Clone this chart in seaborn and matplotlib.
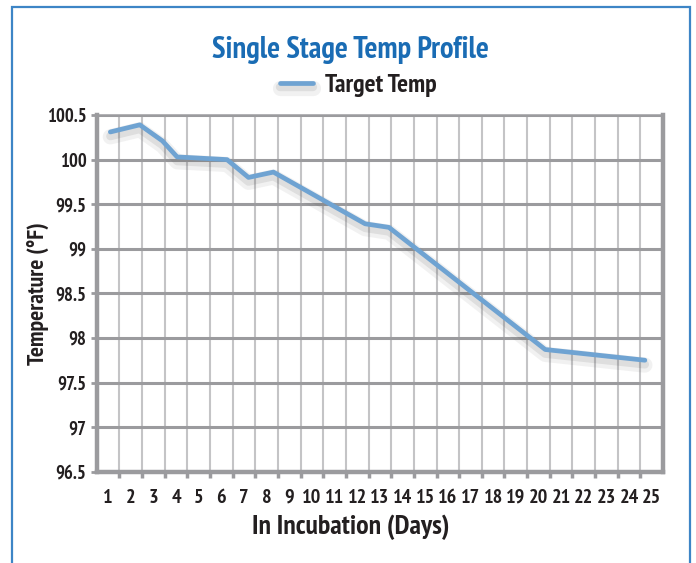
import matplotlib
matplotlib.use('Agg')
import matplotlib.pyplot as plt
import matplotlib.patheffects as pe
from matplotlib.patches import Rectangle
from matplotlib.ticker import FixedLocator
import seaborn as sns
import pandas as pd

# valores
dias = [1.1, 2.4, 3.4, 4.05, 6.25, 7.2, 8.3, 12.35, 13.4, 20.3, 24.7]
temperaturas = [100.31, 100.39, 100.21, 100.03, 100.0, 99.80, 99.86, 99.28, 99.24, 97.87, 97.75]
dias_rotulos = list(range(1, 26))
temp_ticks = [96.5, 97, 97.5, 98, 98.5, 99, 99.5, 100, 100.5]
temp_rotulos = ['96.5', '97', '97.5', '98', '98.5', '99', '99.5', '100', '100.5']

df = pd.DataFrame({'dia': dias, 'temp': temperaturas})

sns.set_style('white')
plt.rcParams['font.family'] = ['PT Sans Narrow', 'Fira Sans Condensed', 'Roboto Condensed',
                               'Archivo Narrow', 'DejaVu Sans']
plt.rcParams['font.weight'] = 'bold'

fig = plt.figure(figsize=(6.96, 5.63), dpi=100)
ax = fig.add_axes([0.139, 0.1622, 0.8136, 0.6335])

cinza = '#9b9b9e'
texto = '#231f20'

sns.lineplot(x='dia', y='temp', data=df, ax=ax, color='#6fa3d2', linewidth=3.4,
             label='Target Temp', sort=False, zorder=5)
ax.lines[0].set_path_effects([
    pe.SimpleLineShadow(offset=(0, -3.5), shadow_color='#555555', alpha=0.08, linewidth=11),
    pe.SimpleLineShadow(offset=(0, -3), shadow_color='#555555', alpha=0.12, linewidth=6),
    pe.Normal()])

ax.set_xlim(0.5, 25.5)
ax.set_ylim(96.5, 100.5)

# rótulos centrados nas categorias, grade entre elas
ax.xaxis.set_major_locator(FixedLocator(dias_rotulos))
ax.set_xticklabels([str(d) for d in dias_rotulos])
ax.xaxis.set_minor_locator(FixedLocator([d + 0.5 for d in dias_rotulos[:-1]]))
ax.yaxis.set_major_locator(FixedLocator(temp_ticks))
ax.set_yticklabels(temp_rotulos)

ax.grid(False)
ax.grid(True, which='minor', axis='x', color='#c4c4c6', linewidth=1.5)
ax.grid(True, which='major', axis='y', color=cinza, linewidth=2.2)
ax.set_axisbelow(True)

ax.tick_params(axis='x', which='major', length=0, pad=12.5, labelsize=14.5, labelcolor=texto)
ax.tick_params(axis='x', which='minor', length=4, width=2.5, color=cinza, direction='out', bottom=True)
ax.tick_params(axis='y', which='major', length=4, width=2, color=cinza, direction='out', left=True,
               pad=3.5, labelsize=13.5, labelcolor=texto)

for lado in ['left', 'bottom', 'right']:
    ax.spines[lado].set_color(cinza)
    ax.spines[lado].set_linewidth(3.2)
ax.spines['top'].set_color(cinza)
ax.spines['top'].set_linewidth(1.8)

ax.set_xlabel('In Incubation (Days)', fontsize=20, fontweight='bold', color=texto)
ax.set_ylabel('Temperature (°F)', fontsize=17, fontweight='bold', color=texto)
ax.xaxis.set_label_coords(0.449, -0.119)
ax.yaxis.set_label_coords(-0.084, 0.5)

fig.text(0.504, 0.912, 'Single Stage Temp Profile', ha='center', va='center',
         fontsize=22, fontweight='bold', color='#1a6cb4')

ax.legend(loc='center', bbox_to_anchor=(0.515, 0.848), bbox_transform=fig.transFigure,
          frameon=False, prop={'size': 18.5, 'weight': 'bold'}, handlelength=1.3,
          handletextpad=0.46, labelcolor=texto)

# moldura azul
fig.patches.append(Rectangle((12 / 696, -0.05), (690 - 12) / 696, 1.05 - 7 / 563,
                             transform=fig.transFigure, fill=False, edgecolor='#3d85c6',
                             linewidth=1.6, zorder=0))

fig.savefig('out.png', dpi=100)
